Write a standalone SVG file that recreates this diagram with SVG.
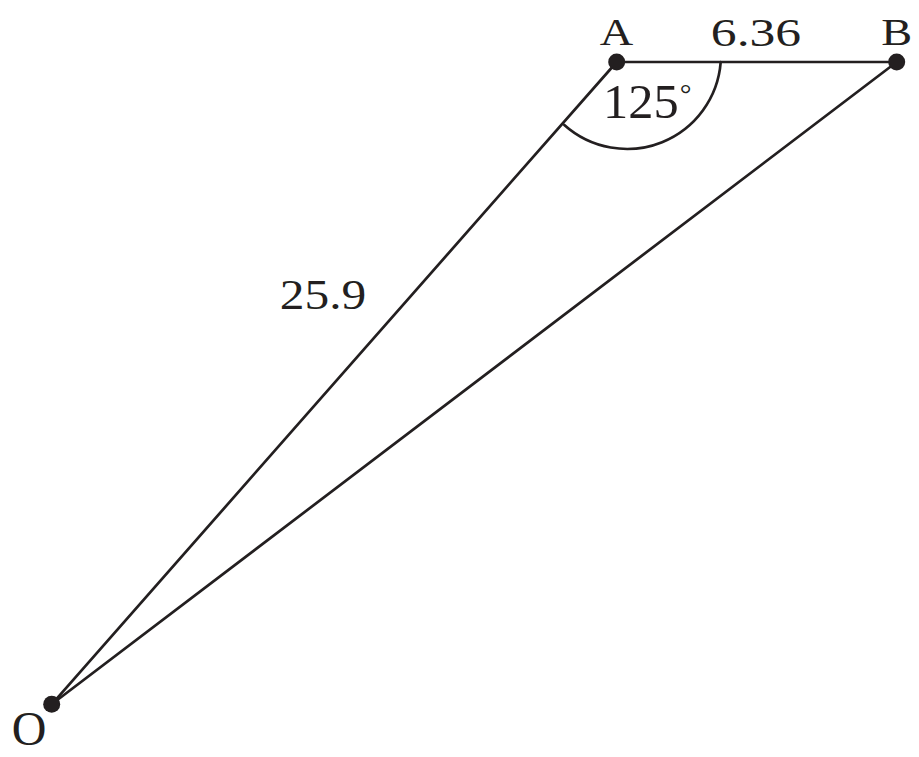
<svg xmlns="http://www.w3.org/2000/svg" width="919" height="757" viewBox="0 0 919 757">
  <style>
    .edge { stroke: #231f20; stroke-width: 2.7; fill: none; stroke-linecap: round; }
    .dot { fill: #231f20; }
    .lbl { font-family: "Liberation Serif", "Times New Roman", serif; fill: #231f20; text-anchor: middle; }
  </style>
  <rect width="919" height="757" fill="#ffffff"/>
  <g id="connectors">
    <line class="edge" x1="616.7" y1="62" x2="896.7" y2="62"/>
    <line class="edge" x1="51.7" y1="704.3" x2="616.7" y2="62"/>
    <line class="edge" x1="51.7" y1="704.3" x2="896.7" y2="62"/>
    <path class="edge" d="M 720.7 62 A 94 94 0 0 1 564.3 125"/>
  </g>
  <g id="node-A">
    <circle class="dot" cx="616.7" cy="62" r="8.5"/>
    <text class="lbl" font-size="38" transform="translate(616.5,45) scale(1.22,1)">A</text>
  </g>
  <g id="node-B">
    <circle class="dot" cx="896.7" cy="62" r="8.5"/>
    <text class="lbl" font-size="38" transform="translate(896.7,45) scale(1.22,1)">B</text>
  </g>
  <g id="node-O">
    <circle class="dot" cx="51.7" cy="704.3" r="8.5"/>
    <text class="lbl" font-size="48" transform="translate(29,745)">O</text>
  </g>
  <g id="labels">
    <text class="lbl" font-size="41" transform="translate(756,46) scale(1.26,1)">6.36</text>
    <text class="lbl" font-size="48" style="text-anchor:start" transform="translate(603,118) scale(1.05,1)">125<tspan font-size="28" dx="1" dy="-15">°</tspan></text>
    <text class="lbl" font-size="43" transform="translate(323,309) scale(1.15,1)">25.9</text>
  </g>
</svg>
